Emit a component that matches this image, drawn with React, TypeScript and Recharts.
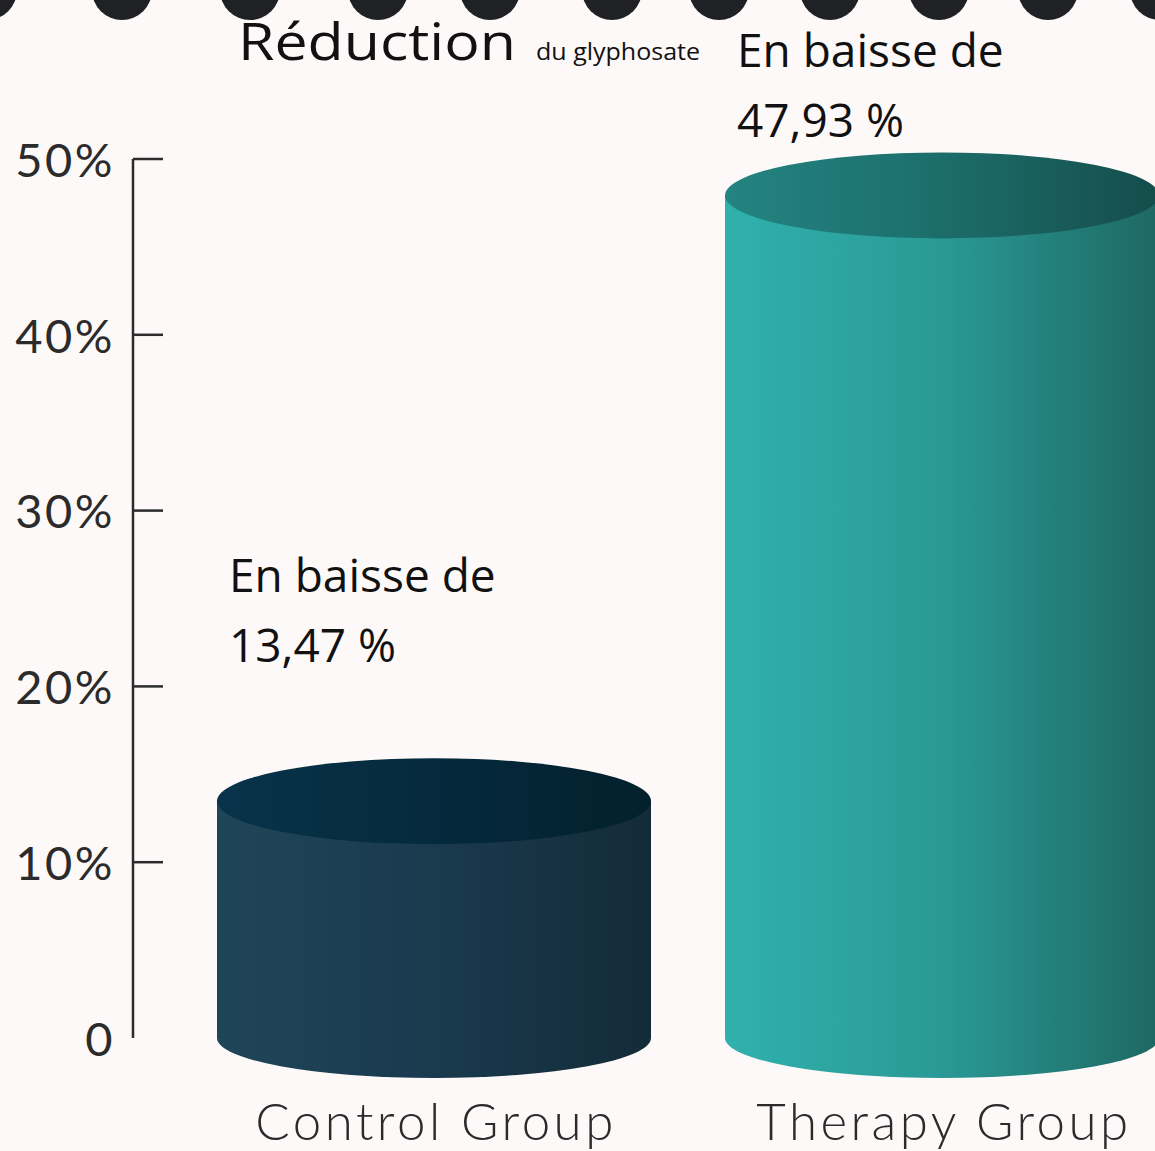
import { BarChart, Bar, XAxis, YAxis, LabelList } from 'recharts';

// Réduction du glyphosate, en %
const groups = ['Control Group', 'Therapy Group'];
const reduction = [13.47, 47.93];
const yTicks = [0, 10, 20, 30, 40, 50];

// décor : festons noirs en haut de page (centres en px)
const scallops = [-13, 122, 250, 378, 490, 612, 719, 830, 939, 1048, 1160];

const data = groups.map((g, i) => ({ group: g, value: reduction[i] }));

const palettes = [
  { side: ['#1f4559', '#1a3a4e', '#142b39'], top: ['#08334a', '#052a3d', '#03202c'] },
  { side: ['#30b1ad', '#2a9995', '#1e6863'], top: ['#238481', '#1c6d6a', '#154d4b'] },
];

function Cylinder(props: any) {
  const { x, y, width, height, index } = props;
  const p = palettes[index] || palettes[0];
  const rx = width / 2;
  const ryTop = 43;
  const ryBottom = 40;
  const cx = x + rx;
  const bottom = y + height;
  const sideId = `side-${index}`;
  const topId = `top-${index}`;
  return (
    <g>
      <defs>
        <linearGradient id={sideId} x1="0" y1="0" x2="1" y2="0">
          <stop offset="0%" stopColor={p.side[0]} />
          <stop offset="50%" stopColor={p.side[1]} />
          <stop offset="100%" stopColor={p.side[2]} />
        </linearGradient>
        <linearGradient id={topId} x1="0" y1="0" x2="1" y2="0">
          <stop offset="0%" stopColor={p.top[0]} />
          <stop offset="50%" stopColor={p.top[1]} />
          <stop offset="100%" stopColor={p.top[2]} />
        </linearGradient>
      </defs>
      <path
        d={`M${x},${y} L${x},${bottom} A${rx},${ryBottom} 0 0 0 ${x + width},${bottom} L${x + width},${y} Z`}
        fill={`url(#${sideId})`}
      />
      <ellipse cx={cx} cy={y} rx={rx} ry={ryTop} fill={`url(#${topId})`} />
    </g>
  );
}

function YTick({ x, y, payload }: any) {
  return (
    <g>
      <text
        x={x + 3}
        y={y}
        dy="0.38em"
        textAnchor="end"
        fill="#2b2b2b"
        fontSize={47}
        fontFamily="Lato"
        letterSpacing={2.5}
      >
        {payload.value === 0 ? '0' : `${payload.value}%`}
      </text>
      {payload.value !== 0 && <line x1={x + 21} y1={y} x2={x + 51} y2={y} stroke="#2b2b2b" strokeWidth={2.5} />}
    </g>
  );
}

function XTick({ x, y, payload }: any) {
  return (
    <text
      x={x + 2}
      y={y + 102}
      textAnchor="middle"
      fill="#2b2b2b"
      fontSize={51}
      fontFamily="Lato"
      fontWeight={300}
      letterSpacing={3.5}
    >
      {payload.value}
    </text>
  );
}

function Note(props: any) {
  const { x, y, value } = props;
  const base = Math.max(y - 209, 67);
  const pct = `${Number(value).toFixed(2).replace('.', ',')} %`;
  return (
    <text x={x + 12} y={base} fill="#111" fontSize={46} fontFamily="Open Sans">
      <tspan x={x + 12}>En baisse de</tspan>
      <tspan x={x + 12} dy={70}>{pct}</tspan>
    </text>
  );
}

export default function App() {
  return (
    <div
      style={{
        position: 'absolute',
        left: 0,
        top: 0,
        width: 1155,
        height: 1151,
        overflow: 'hidden',
        background: '#fdf9f8',
      }}
    >
      <BarChart width={1196} height={1151} data={data} margin={{ top: 159, right: 0, bottom: 0, left: 0 }}>
        <YAxis
          type="number"
          domain={[0, 50]}
          ticks={yTicks}
          width={133}
          tickSize={0}
          tickMargin={21}
          tickLine={false}
          axisLine={{ stroke: '#2b2b2b', strokeWidth: 2.5 }}
          tick={<YTick />}
        />
        <XAxis
          dataKey="group"
          height={113}
          padding={{ left: 47, right: 0 }}
          axisLine={false}
          tickLine={false}
          tickSize={0}
          tickMargin={0}
          tick={<XTick />}
          interval={0}
        />
        <Bar dataKey="value" barSize={434} shape={<Cylinder />} isAnimationActive={false}>
          <LabelList dataKey="value" content={<Note />} />
        </Bar>
      </BarChart>
      <svg width={1155} height={100} style={{ position: 'absolute', left: 0, top: 0 }}>
        {scallops.map((cx) => (
          <circle key={cx} cx={cx} cy={-10} r={30} fill="#202124" />
        ))}
        <text x={238} y={60} fill="#111" fontSize={52} fontFamily="Open Sans" textLength={278} lengthAdjust="spacingAndGlyphs">
          Réduction
        </text>
        <text x={536} y={60} fill="#111" fontSize={24} fontFamily="Open Sans" textLength={164} lengthAdjust="spacingAndGlyphs">
          du glyphosate
        </text>
      </svg>
    </div>
  );
}
